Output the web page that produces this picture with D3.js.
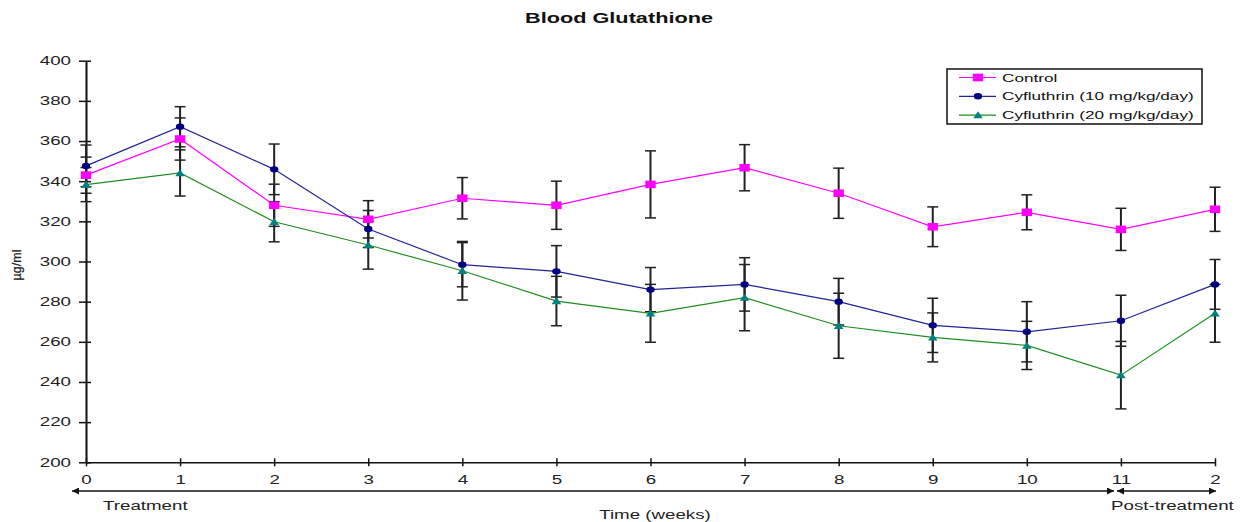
<!DOCTYPE html>
<html>
<head>
<meta charset="utf-8">
<script src="https://cdn.jsdelivr.net/npm/d3@7/dist/d3.min.js"></script>
<style>
  html, body { margin: 0; padding: 0; background: #fff; }
  svg { display: block; font-family: "Liberation Sans", Arial, sans-serif; }
</style>
</head>
<body>
<svg id="chart" width="1242" height="522"></svg>
<script>
// ---- data ----
const weeks = [0, 1, 2, 3, 4, 5, 6, 7, 8, 9, 10, 11, 12];
const weekLabels = ["0", "1", "2", "3", "4", "5", "6", "7", "8", "9", "10", "11", "2"];
const yTicks = [200, 220, 240, 260, 280, 300, 320, 340, 360, 380, 400];
const seriesNames = ["Control", "Cyfluthrin (10 mg/kg/day)", "Cyfluthrin (20 mg/kg/day)"];
const control    = [343, 361, 328, 321, 331.5, 328, 338.4, 346.7, 334, 317.3, 324.5, 316, 326];
const controlErr = [9, 10.5, 10.5, 9.3, 10.3, 12, 16.7, 11.5, 12.5, 9.9, 8.7, 10.5, 11];
const cyf10      = [347.6, 367.1, 345.9, 316.2, 298.4, 295.1, 286, 288.6, 280, 268.2, 265, 270.5, 288.6];
const cyf10Err   = [10.4, 10, 12.6, 9.2, 11, 12.8, 11, 13.3, 11.6, 13.5, 15, 12.7, 12.4];
const cyf20      = [338.3, 344.1, 319.8, 308.2, 295.4, 280.3, 274.2, 282, 268, 262.2, 258.2, 243.4, 274.2];
const cyf20Err   = [8.5, 11.5, 10, 12, 14.6, 12.3, 14.4, 16.5, 16.2, 12.2, 12, 16.8, 14.4];

const STRETCH = 1.56;
function stretch(sel, f) {
  sel.each(function () {
    const len = this.getComputedTextLength();
    if (len > 0) {
      d3.select(this).attr("textLength", len * (f || STRETCH)).attr("lengthAdjust", "spacingAndGlyphs");
    }
  });
}

const svg = d3.select("#chart");
const x = d3.scaleLinear().domain([0, 12]).range([86, 1215]);
const y = d3.scaleLinear().domain([200, 400]).range([462.3, 60.7]);

const series = [
  { name: seriesNames[0], values: control, err: controlErr, line: "#ff00ff", fill: "#ff00ff", marker: "square" },
  { name: seriesNames[1], values: cyf10, err: cyf10Err, line: "#22229a", fill: "#000080", marker: "dot" },
  { name: seriesNames[2], values: cyf20, err: cyf20Err, line: "#1f8f1f", fill: "#008080", marker: "tri" }
];

// ---- title ----
svg.append("text").attr("x", 619).attr("y", 23).attr("text-anchor", "middle")
  .attr("font-size", 14).attr("font-weight", "bold").attr("fill", "#111")
  .text("Blood Glutathione").call(stretch, 1.55);

// ---- axes ----
const yAxis = svg.append("g").attr("transform", `translate(${x(0)},0)`)
  .call(d3.axisLeft(y).tickValues(yTicks).tickSize(7).tickSizeOuter(0).tickPadding(0));
yAxis.select(".domain").attr("stroke", "#111").attr("stroke-width", 2);
yAxis.selectAll(".tick line").attr("x1", 5).attr("x2", -7).attr("stroke", "#111").attr("stroke-width", 1.5);
yAxis.selectAll(".tick text").attr("x", -15).attr("font-size", 12).attr("fill", "#222")
  .attr("font-family", "Liberation Sans, Arial, sans-serif").call(stretch);

const xAxis = svg.append("g").attr("transform", `translate(0,${y(200)})`)
  .call(d3.axisBottom(x).tickValues(weeks).tickFormat((d, i) => weekLabels[i]).tickSize(4).tickSizeOuter(0));
xAxis.select(".domain").attr("stroke", "#111").attr("stroke-width", 1.5);
xAxis.selectAll(".tick line").attr("y1", -4).attr("y2", 4).attr("stroke", "#111").attr("stroke-width", 1.5);
xAxis.selectAll(".tick text").attr("y", 22).attr("dy", 0).attr("font-size", 12).attr("fill", "#222")
  .attr("font-family", "Liberation Sans, Arial, sans-serif").call(stretch);

// ---- y label ----
svg.append("text").attr("transform", "translate(21,265) rotate(-90)").attr("text-anchor", "middle")
  .attr("font-size", 12.5).attr("fill", "#222").attr("stroke", "#222").attr("stroke-width", 0.25)
  .text("µg/ml");

// ---- period arrows ----
const defs = svg.append("defs");
["start", "end"].forEach(k => {
  defs.append("marker").attr("id", "arr-" + k).attr("viewBox", "0 0 10 10")
    .attr("refX", k === "end" ? 10 : 0).attr("refY", 5).attr("markerWidth", 9).attr("markerHeight", 7)
    .attr("markerUnits", "userSpaceOnUse").attr("orient", "auto")
    .append("path").attr("d", k === "end" ? "M0,0 L10,5 L0,10 z" : "M10,0 L0,5 L10,10 z").attr("fill", "#111");
});
const arrowY = 491;
svg.append("line").attr("x1", 72).attr("x2", 1114).attr("y1", arrowY).attr("y2", arrowY)
  .attr("stroke", "#111").attr("stroke-width", 1.3)
  .attr("marker-start", "url(#arr-start)").attr("marker-end", "url(#arr-end)");
svg.append("line").attr("x1", 1117).attr("x2", x(12) + 1).attr("y1", arrowY).attr("y2", arrowY)
  .attr("stroke", "#111").attr("stroke-width", 1.3)
  .attr("marker-start", "url(#arr-start)").attr("marker-end", "url(#arr-end)");

svg.append("text").attr("x", 103).attr("y", 510).attr("font-size", 12).attr("fill", "#222")
  .text("Treatment").call(stretch);
svg.append("text").attr("x", 1111).attr("y", 510).attr("font-size", 12).attr("fill", "#222")
  .text("Post-treatment").call(stretch);
svg.append("text").attr("x", 655).attr("y", 519).attr("text-anchor", "middle").attr("font-size", 12).attr("fill", "#222")
  .text("Time (weeks)").call(stretch);

// ---- marker drawing ----
function drawMarker(g, type, cx, cy, color) {
  if (type === "square") {
    g.append("rect").attr("x", cx - 5.2).attr("y", cy - 3.8).attr("width", 10.4).attr("height", 7.6).attr("fill", color);
  } else if (type === "dot") {
    g.append("ellipse").attr("cx", cx).attr("cy", cy).attr("rx", 4.2).attr("ry", 3.2).attr("fill", color);
  } else {
    g.append("path").attr("d", `M${cx - 4.8},${cy + 3.2} L${cx},${cy - 3.8} L${cx + 4.8},${cy + 3.2} Z`).attr("fill", color);
  }
}

// ---- error bars ----
const errG = svg.append("g");
series.forEach(s => {
  weeks.forEach((w, i) => {
    const cx = x(w), hi = y(s.values[i] + s.err[i]), lo = y(s.values[i] - s.err[i]);
    errG.append("line").attr("x1", cx).attr("x2", cx).attr("y1", hi).attr("y2", lo).attr("stroke", "#222").attr("stroke-width", 2);
    [hi, lo].forEach(yy => errG.append("line").attr("x1", cx - 5.5).attr("x2", cx + 5.5).attr("y1", yy).attr("y2", yy)
      .attr("stroke", "#222").attr("stroke-width", 1.5));
  });
});

// ---- lines ----
const lineGen = d3.line().x((d, i) => x(weeks[i])).y(d => y(d));
series.forEach(s => {
  svg.append("path").datum(s.values).attr("d", lineGen).attr("fill", "none")
    .attr("stroke", s.line).attr("stroke-width", 1.2);
});
// ---- markers ----
const mG = svg.append("g");
series.forEach(s => {
  s.values.forEach((v, i) => drawMarker(mG, s.marker, x(weeks[i]), y(v), s.fill));
});

// ---- legend ----
const lg = svg.append("g");
lg.append("rect").attr("x", 947).attr("y", 69).attr("width", 255).attr("height", 55)
  .attr("fill", "#fff").attr("stroke", "#111").attr("stroke-width", 1.5);
series.forEach((s, i) => {
  const ly = 77.5 + i * 18.8;
  lg.append("line").attr("x1", 959).attr("x2", 996).attr("y1", ly).attr("y2", ly).attr("stroke", s.line).attr("stroke-width", 1.2);
  drawMarker(lg, s.marker, 978, ly, s.fill);
  lg.append("text").attr("x", 1002).attr("y", ly + 4).attr("font-size", 11).attr("fill", "#111").text(s.name).call(stretch);
});
</script>
</body>
</html>
